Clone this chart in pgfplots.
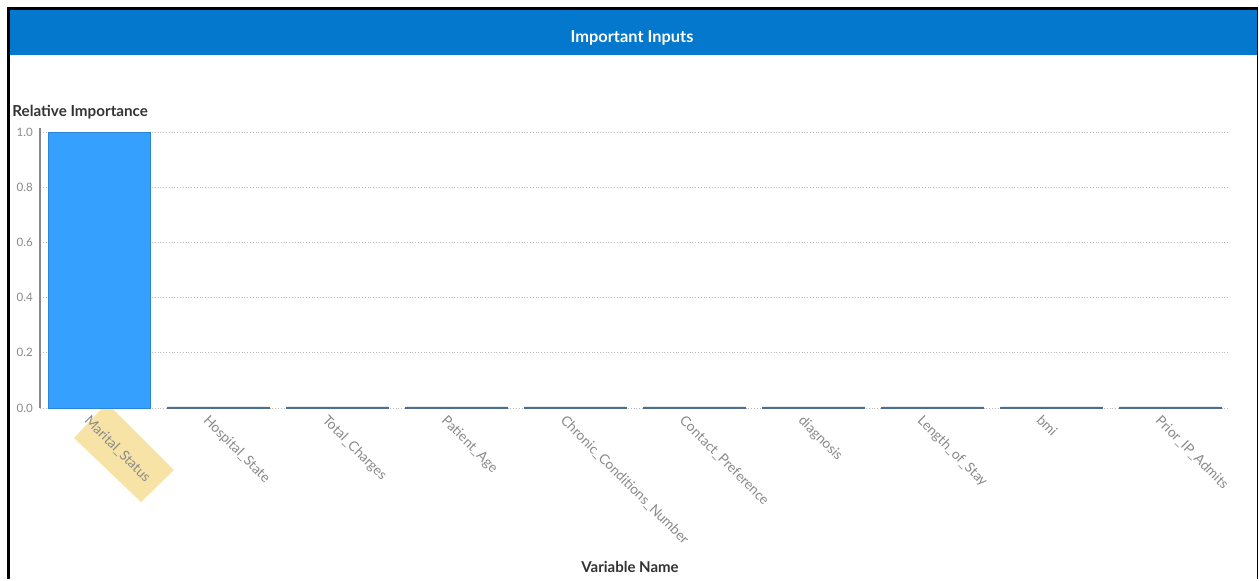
\documentclass[border=0pt]{standalone}
\usepackage{pgfplots}
\pgfplotsset{compat=1.18}
\usepackage{fontspec}
\setmainfont{Lato}
\definecolor{banner}{HTML}{0378CD}
\definecolor{barfill}{HTML}{35A0FD}
\definecolor{baredge}{HTML}{2B86D6}
\definecolor{smallbar}{HTML}{4D6F8F}
\definecolor{ticktext}{HTML}{8A8A8A}
\definecolor{labtext}{HTML}{333333}
\definecolor{hl}{HTML}{F8E3A6}
\definecolor{axisgray}{HTML}{8A8A8A}
\begin{document}
\begin{tikzpicture}[x=0.5pt,y=-0.5pt]
% bounding box / background
\path[fill=white] (0,0) rectangle (1259,579);
% banner
\fill[banner] (9,9) rectangle (1257,55);
\node[text=white,font=\bfseries\fontsize{8.2pt}{10pt}\selectfont] at (632,38) {Important Inputs};
% frame
\draw[black,line width=1.5pt] (8.5,579) -- (8.5,8.5) -- (1257.5,8.5);
\draw[black,line width=0.6pt] (1257.5,8.5) -- (1257.5,579);
% selection highlight behind the first category label
\fill[hl] (107,403) -- (174,470) -- (141,502) -- (74,438) -- cycle;
% labels
\node[anchor=west,inner sep=0pt,text=labtext,font=\bfseries\fontsize{7.6pt}{9pt}\selectfont] at (12,112) {Relative Importance};
\node[text=labtext,font=\bfseries\fontsize{7.5pt}{9pt}\selectfont] at (630,567) {Variable Name};
\begin{axis}[
  at={(40pt*0.5,-408pt*0.5)}, anchor=south west,
  scale only axis,
  width=595pt, height=138pt,
  xmin=-0.5, xmax=9.5,
  ymin=0, ymax=1.0,
  axis line style={draw=none},
  clip=false,
  ytick={0,0.2,0.4,0.6,0.8,1.0},
  yticklabel style={/pgf/number format/fixed,/pgf/number format/fixed zerofill,/pgf/number format/precision=1,text=ticktext,font=\fontsize{5.8pt}{7pt}\selectfont},
  /pgf/number format/assume math mode=true,
  ymajorgrids,
  grid style={densely dotted,draw=gray!55,line width=0.4pt},
  major tick length=0pt,
  xtick={0,...,9},
  xticklabels={Marital\_Status,Hospital\_State,Total\_Charges,Patient\_Age,Chronic\_Conditions\_Number,Contact\_Preference,diagnosis,Length\_of\_Stay,bmi,Prior\_IP\_Admits},
  xticklabel style={rotate=-45,anchor=north west,text=ticktext,font=\fontsize{6.9pt}{8pt}\selectfont,xshift=-2pt,yshift=-4pt,inner sep=1pt},
  ybar, bar width=0.857, bar shift=0pt,
]
\addplot[fill=barfill,draw=baredge,line width=0.4pt] coordinates {
(0,1.0)};
\addplot[fill=smallbar,draw=smallbar,line width=0.4pt] coordinates {
(1,0.004) (2,0.004) (3,0.004) (4,0.004) (5,0.004) (6,0.004) (7,0.004) (8,0.004) (9,0.004)};
\draw[axisgray,line width=0.6pt] (axis cs:-0.5,0) -- (axis cs:-0.5,1.015);
\end{axis}
\end{tikzpicture}
\end{document}
